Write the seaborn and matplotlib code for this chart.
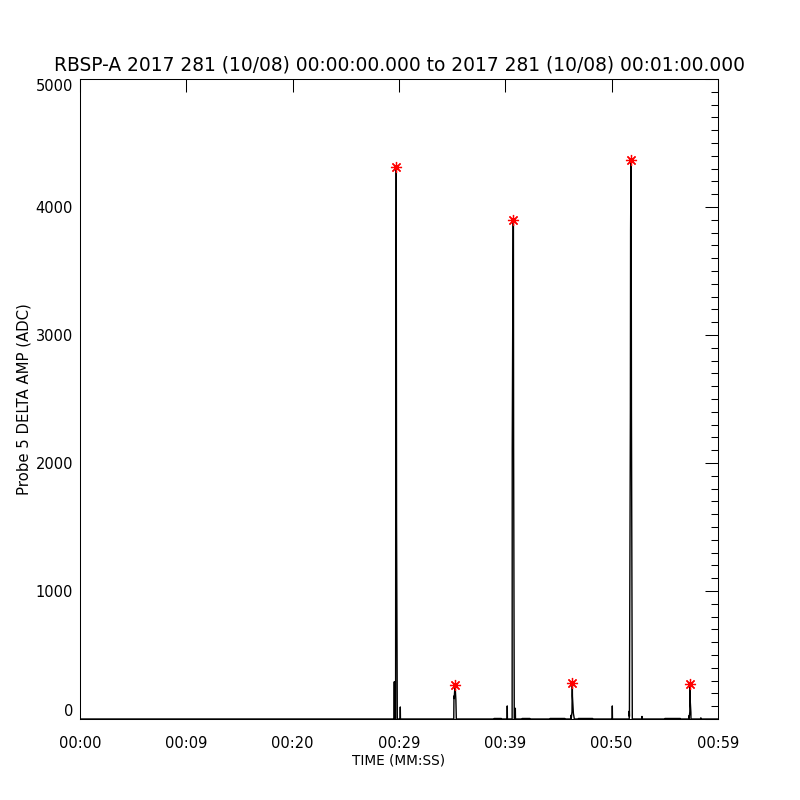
import matplotlib
matplotlib.use("Agg")
import matplotlib.pyplot as plt
import seaborn as sns
from matplotlib.ticker import MultipleLocator

# 波形 (秒, ADC)
time_s = [
    0.0, 29.54, 29.557, 29.57, 29.68, 29.689, 29.70, 29.74, 29.76, 29.77, 29.84,
    30.11, 30.122, 30.135,
    35.15, 35.17, 35.19, 35.27, 35.35, 35.39,
    38.93, 38.95, 39.61, 39.63,
    40.17, 40.18, 40.195, 40.64, 40.65, 40.73, 40.76, 40.78, 40.84,
    40.93, 40.94, 40.955,
    41.57, 41.59, 42.30, 42.32,
    44.20, 44.22, 45.59, 45.61,
    46.17, 46.18, 46.195, 46.27, 46.28, 46.30, 46.31, 46.40, 46.49,
    46.86, 46.88, 48.20, 48.22,
    50.05, 50.06, 50.075,
    51.65, 51.66, 51.67, 51.76, 51.78, 51.82, 51.84, 51.86, 51.94,
    52.84, 52.85, 52.86,
    55.00, 55.02, 56.45, 56.47,
    57.26, 57.27, 57.28, 57.35, 57.36, 57.37, 57.38, 57.45, 57.46,
    58.36, 58.37, 58.40, 58.41, 60.0,
]
amp_adc = [
    0, 0, 291, 0, 0, 1547, 2445, 4315, 2445, 1547, 0,
    0, 94, 0,
    0, 180, 160, 266, 148, 0,
    0, 4, 4, 0,
    0, 102, 0, 0, 2115, 3896, 3896, 2115, 0,
    0, 84, 0,
    0, 4, 4, 0,
    0, 4, 4, 0,
    0, 30, 0, 57, 180, 279, 180, 44, 0,
    0, 4, 4, 0,
    0, 102, 0,
    0, 62, 20, 2410, 3820, 4365, 3820, 2410, 0,
    0, 20, 0,
    0, 4, 4, 0,
    0, 25, 0, 57, 154, 271, 154, 52, 0,
    0, 8, 8, 0, 0,
]

# ピーク (赤い*)
peak_time = [29.75, 35.27, 40.75, 46.30, 51.82, 57.37]
peak_amp = [4315, 266, 3896, 279, 4365, 271]

xtick_pos = [0, 10, 20, 30, 40, 50, 60]
xtick_labels = ["00:00", "00:09", "00:20", "00:29", "00:39", "00:50", "00:59"]
ytick_pos = [0, 1000, 2000, 3000, 4000, 5000]

sns.set_style("white")
plt.rcParams["font.family"] = ["DejaVu Sans"]
for k in ["text.color", "axes.labelcolor", "xtick.color", "ytick.color"]:
    plt.rcParams[k] = "black"

fig = plt.figure(figsize=(8, 8), dpi=100)
ax = fig.add_axes([0.1, 0.10125, 0.7975, 0.8])

sns.lineplot(x=time_s, y=amp_adc, sort=False, estimator=None,
             color="black", linewidth=1.0, ax=ax)
ax.plot(peak_time, peak_amp, ls="none", marker=(8, 2, 0), color="red",
        markersize=8, markeredgewidth=0.9)

ax.set_xlim(0, 60)
ax.set_ylim(0, 5000)
ax.set_xticks(xtick_pos)
ax.set_xticklabels(xtick_labels)
ax.set_yticks(ytick_pos)
ax.yaxis.set_minor_locator(MultipleLocator(100))

ax.tick_params(which="both", direction="in", top=True, right=True,
               color="black", width=0.75, labelsize=10.5)
ax.tick_params(axis="x", which="major", length=9.5, pad=12)
ax.tick_params(axis="y", which="major", length=9.5, pad=5)
ax.tick_params(axis="y", which="minor", length=5)

labels = ax.get_yticklabels()
labels[-1].set_va("top")
labels[0].set_va("bottom")

for sp in ax.spines.values():
    sp.set_linewidth(0.75)
    sp.set_color("black")

ax.set_xlabel("TIME (MM:SS)", fontsize=9.8, labelpad=2)
ax.set_ylabel("Probe 5 DELTA AMP (ADC)", fontsize=10.7, labelpad=3)
ax.set_title("RBSP-A 2017 281 (10/08) 00:00:00.000 to 2017 281 (10/08) 00:01:00.000",
             fontsize=13.4, pad=6)

fig.savefig("out.png", dpi=100, facecolor="white")
